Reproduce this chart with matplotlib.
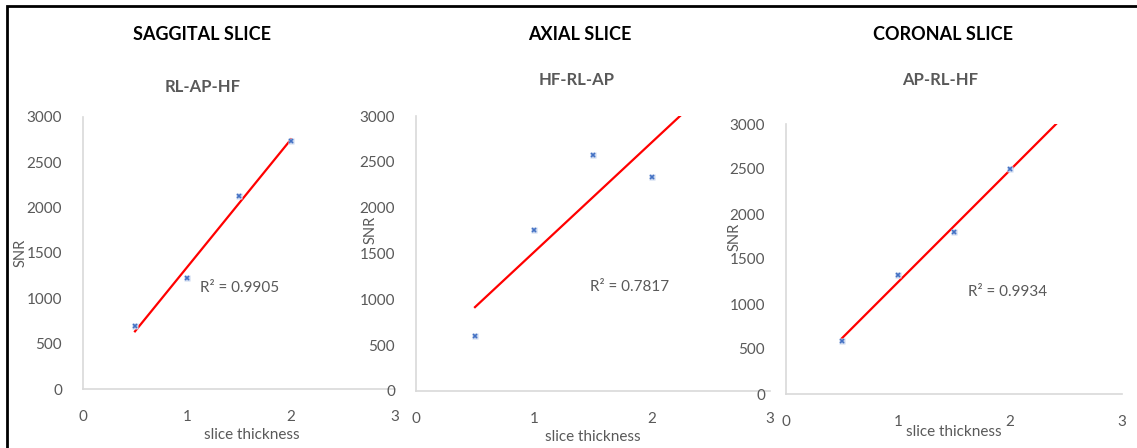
import numpy as np
import matplotlib
matplotlib.use("Agg")
import matplotlib.pyplot as plt
from matplotlib.patches import Rectangle

plt.rcParams['font.family'] = ['Lato', 'DejaVu Sans']

W, H = 1137, 448

# data
thickness = [0.5, 1.0, 1.5, 2.0]
snr_sag = [690, 1220, 2130, 2740]
snr_ax = [600, 1760, 2570, 2330]
snr_cor = [590, 1320, 1800, 2505]
titles = ["SAGGITAL SLICE", "AXIAL SLICE", "CORONAL SLICE"]
subtitles = ["RL-AP-HF", "HF-RL-AP", "AP-RL-HF"]
r2_labels = ["R² = 0.9905", "R² = 0.7817", "R² = 0.9934"]
forward = [0.0, 0.5, 0.5]   # trendline forecast forward
x_ticks = [0, 1, 2, 3]
y_ticks = [0, 500, 1000, 1500, 2000, 2500, 3000]

# layout in pixels: axes box (left, right, top, bottom)
boxes = [(83, 395, 117, 389), (416, 770, 116, 391), (786, 1122, 124, 394)]
title_pos = [(202, 35), (580, 35), (943, 35)]
sub_pos = [(203, 87), (577, 80), (940, 80)]
r2_pos = [(200, 288), (590, 287), (968, 292)]
snr_pos = [(21, 253), (371, 230), (735, 237)]
xl_pos = [(252, 435), (593, 437), (954, 432)]

gray = "#595959"
axcol = "#D9D9D9"


def fx(x):
    return x / W


def fy(y):
    return 1 - y / H


fig = plt.figure(figsize=(W / 100, H / 100), dpi=100)

series = [snr_sag, snr_ax, snr_cor]
for i in range(3):
    l, r, t, b = boxes[i]
    ax = fig.add_axes([fx(l), fy(b), (r - l) / W, (b - t) / H])
    ax.patch.set_alpha(0)
    y = np.array(series[i])
    x = np.array(thickness)
    k, c = np.polyfit(x, y, 1)
    xt = np.array([x[0], x[-1] + forward[i]])
    ax.plot(xt, k * xt + c, color="#FF0000", lw=1.6, zorder=2)
    ax.plot(x, y, ls="none", marker="s", ms=4.5, color="#C9D6EE", mec="none", zorder=3)
    ax.plot(x, y, ls="none", marker="x", ms=3, mew=1.2, color="#4472C4", zorder=4)
    ax.set_xlim(0, 3)
    ax.set_ylim(0, 3000)
    ax.set_xticks(x_ticks)
    ax.set_yticks(y_ticks)
    for s in ["top", "right"]:
        ax.spines[s].set_visible(False)
    for s in ["left", "bottom"]:
        ax.spines[s].set_color(axcol)
        ax.spines[s].set_linewidth(1.2)
    ax.tick_params(axis="both", length=0, colors=gray, labelsize=11)
    ax.tick_params(axis="y", pad=15)
    ax.tick_params(axis="x", pad=15)

    fig.text(fx(title_pos[i][0]), fy(title_pos[i][1]), titles[i], ha="center", va="center",
             fontsize=13, fontweight="bold", color="black")
    fig.text(fx(sub_pos[i][0]), fy(sub_pos[i][1]), subtitles[i], ha="center", va="center",
             fontsize=12, fontweight="bold", color=gray)
    fig.text(fx(r2_pos[i][0]), fy(r2_pos[i][1]), r2_labels[i], ha="left", va="center",
             fontsize=11, color=gray)
    fig.text(fx(snr_pos[i][0]), fy(snr_pos[i][1]), "SNR", ha="center", va="center",
             rotation=90, fontsize=10.5, color=gray)
    fig.text(fx(xl_pos[i][0]), fy(xl_pos[i][1]), "slice thickness", ha="center", va="center",
             fontsize=11, color=gray)

# outer frame (left and top edges visible)
fig.patches.append(Rectangle((fx(7), -0.1), 1.2, fy(6) + 0.1, transform=fig.transFigure,
                             fill=False, ec="black", lw=2))

fig.savefig("out.png", dpi=100)
